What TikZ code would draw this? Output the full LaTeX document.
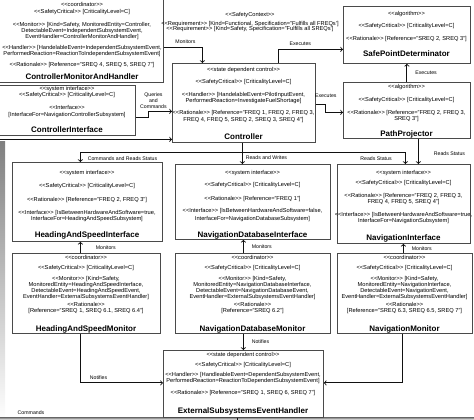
\documentclass[tikz,border=0pt]{standalone}
\usepackage{fontspec}
\setmainfont{Liberation Sans}
\usetikzlibrary{positioning,arrows,calc}

\definecolor{ink}  {HTML}{111111}
\definecolor{frame}{HTML}{4A4A4A}
\definecolor{shade}{HTML}{DCDCDC}

\newcommand{\stereo}[1]{<\kern0pt<#1>\kern0pt>}

\tikzset{
  >=to,
  % --- nodes
  comp/.style  = {draw=frame, line width=0.8pt, fill=white, anchor=north west, inner sep=0pt},
  body/.style  = {font=\fontsize{5.7}{6}\selectfont, align=center, inner sep=0pt, anchor=north},
  cname/.style = {font=\fontsize{8}{9}\selectfont\bfseries, inner sep=0pt, anchor=base},
  lbl/.style   = {font=\fontsize{5.2}{6}\selectfont, inner sep=1pt, align=center},
  % --- edges
  e/.style     = {->, line width=0.9pt, draw=ink},
}

\begin{document}
\begin{tikzpicture}[x=1pt,y=-1pt]
  \useasboundingbox (0,0) rectangle (474,420);
  \clip (0,0) rectangle (474,420);

  % page edge
  \fill[shade] (0,141) rectangle (5,420);
  \fill[shade] (0,417.5) rectangle (474,420);

  % boxes
  \node[comp, minimum width=165pt, minimum height=86pt] (cmh)  at (-2,-4) {};
  \node[comp, minimum width=136pt, minimum height=50pt] (ci)   at (-1,85) {};
  \node[comp, minimum width=143pt, minimum height=79pt] (ctrl) at (172,63) {};
  \node[comp, minimum width=127pt, minimum height=57pt] (spd)  at (343,6) {};
  \node[comp, minimum width=127pt, minimum height=56pt] (pp)   at (343,82) {};
  \node[comp, minimum width=150pt, minimum height=79pt] (hsi)  at (12,162) {};
  \node[comp, minimum width=155pt, minimum height=75pt] (ndi)  at (175,164) {};
  \node[comp, minimum width=133pt, minimum height=79pt] (ni)   at (337,164) {};
  \node[comp, minimum width=148pt, minimum height=80pt] (hsm)  at (12,253) {};
  \node[comp, minimum width=155pt, minimum height=80pt] (ndm)  at (175,253) {};
  \node[comp, minimum width=135pt, minimum height=80pt] (nm)   at (337,253) {};
  \node[comp, minimum width=160pt, minimum height=67pt] (eseh) at (163,350) {};

  % ControllerMonitorAndHandler
  \node[body] (cmh-txt) at (82,2) {\stereo{coordinator}\\[1pt]
    \stereo{SafetyCritical} [CriticalityLevel=C]\\[7pt]
    \stereo{Monitor} [Kind=Safety, MonitoredEntity=Controller,\\
    DetectableEvent=IndependentSubsystemEvent,\\
    EventHandler=ControllerMonitorAndHandler]\\[5pt]
    \stereo{Handler} [HandelableEvent=IndependentSubsystemEvent,\\
    PerformedReaction=ReactionToIndependentSubsystemEvent]\\[5pt]
    \stereo{Rationale} [Reference="SREQ 4, SREQ 5, SREQ 7"]};
  \node[cname] (cmh-name) at (82,79) {ControllerMonitorAndHandler};

  % SafetyContext
  \node[body] (safety) at (250,12) {\stereo{SafetyContext}\\[3pt]
    \stereo{Requirement} [Kind=Functional, Specification="Fulfills all FREQs']\\[-1pt]
    \stereo{Requirement} [Kind=Safety, Specification="Fulfills all SREQs']};

  % ControllerInterface
  \node[body] (ci-txt) at (67,86) {\stereo{system interface}\\
    \stereo{SafetyCritical} [CriticalityLevel=C]\\[7pt]
    \stereo{Interface}\\[1pt]
    {}[InterfaceFor=NavigationControllerSubsystem]};
  \node[cname] (ci-name) at (67,132) {ControllerInterface};

  % Controller
  \node[body] (ctrl-txt) at (243.5,67) {\stereo{state dependent control}\\[6pt]
    \stereo{SafetyCritical} [CriticalityLevel=C]\\[7pt]
    \stereo{Handler} [HandelableEvent=PilotInputEvent,\\
    PerformedReaction=InvestigateFuelShortage]\\[6pt]
    \stereo{Rationale} [Reference="FREQ 1, FREQ 2, FREQ 3,\\[1pt]
    FREQ 4, FREQ 5, SREQ 2, SREQ 3, SREQ 4"]};
  \node[cname] (ctrl-name) at (243.5,139) {Controller};

  % SafePointDeterminator
  \node[body] (spd-txt) at (406.5,11) {\stereo{algorithm}\\[6pt]
    \stereo{SafetyCritical} [CriticalityLevel=C]\\[7pt]
    \stereo{Rationale} [Reference="SREQ 2, SREQ 3"]};
  \node[cname] (spd-name) at (406.5,57) {SafePointDeterminator};

  % PathProjector
  \node[body] (pp-txt) at (406.5,84) {\stereo{algorithm}\\[7pt]
    \stereo{SafetyCritical} [CriticalityLevel=C]\\[7pt]
    \stereo{Rationale} [Reference="FREQ 2, FREQ 3,\\
    SREQ 3"]};
  \node[cname] (pp-name) at (406.5,136) {PathProjector};

  % HeadingAndSpeedInterface
  \node[body] (hsi-txt) at (87,170) {\stereo{system interface}\\[7pt]
    \stereo{SafetyCritical} [CriticalityLevel=C]\\[8pt]
    \stereo{Rationale} [Reference="FREQ 2, FREQ 3"]\\[7pt]
    \stereo{Interface} [IsBetweenHardwareAndSoftware=true,\\
    InterfaceFor=HeadingAndSpeedSubsystem]};
  \node[cname] (hsi-name) at (87,237) {HeadingAndSpeedInterface};

  % NavigationDatabaseInterface
  \node[body] (ndi-txt) at (252.5,170) {\stereo{system interface}\\[6pt]
    \stereo{SafetyCritical} [CriticalityLevel=C]\\[8pt]
    \stereo{Rationale} [Reference="FREQ 1"]\\[6.5pt]
    \stereo{Interface} [IsBetweenHardwareAndSoftware=false,\\[2pt]
    InterfaceFor=NavigationDatabaseSubsystem]};
  \node[cname] (ndi-name) at (252.5,237) {NavigationDatabaseInterface};

  % NavigationInterface
  \node[body] (ni-txt) at (403.5,170) {\stereo{system interface}\\[4pt]
    \stereo{SafetyCritical} [CriticalityLevel=C]\\[7.5pt]
    \stereo{Rationale} [Reference="FREQ 2, FREQ 3,\\
    FREQ 4, FREQ 5, SREQ 4"]\\[6.5pt]
    \stereo{Interface} [IsBetweenHardwareAndSoftware=true,\\
    InterfaceFor=NavigationSubsystem]};
  \node[cname] (ni-name) at (403.5,240) {NavigationInterface};

  % monitors
  \foreach \m/\cx/\ent/\ev/\refs/\name in {
    hsm/86/HeadingAndSpeedInterface/HeadingAndSpeedEvent/{SREQ 1, SREQ 6.1, SREQ 6.4}/HeadingAndSpeedMonitor,
    ndm/252.5/NavigationDatabaseInterface/NavigationDatabaseEvent/{SREQ 6.2}/NavigationDatabaseMonitor,
    nm/404.5/NavigationInterface/NavigationEvent/{SREQ 6.3, SREQ 6.5, SREQ 7}/NavigationMonitor}
  {
    \node[body] (\m-txt) at (\cx,255) {\stereo{coordinator}\\[4pt]
      \stereo{SafetyCritical} [CriticalityLevel=C]\\[5pt]
      \stereo{Monitor} [Kind=Safety,\\
      MonitoredEntity=\ent,\\
      DetectableEvent=\ev,\\
      EventHandler=ExternalSubsystemsEventHandler]\\[2pt]
      \stereo{Rationale}\\
      {}[Reference="\refs"]};
    \node[cname] (\m-name) at (\cx,331) {\name};
  }

  % ExternalSubsystemsEventHandler
  \node[body] (eseh-txt) at (243,352) {\stereo{state dependent control}\\[4pt]
    \stereo{SafetyCritical} [CriticalityLevel=C]\\[4pt]
    \stereo{Handler} [HandleableEvent=DependentSubsystemEvent,\\
    PerformedReaction=ReactionToDependentSubsystemEvent]\\[6pt]
    \stereo{Rationale} [Reference="SREQ 1, SREQ 6, SREQ 7"]};
  \node[cname] (eseh-name) at (243,413) {ExternalSubsystemsEventHandler};

  % connectors, top
  \draw[e] ([yshift=-8pt]cmh.east) -| ([xshift=-41.5pt]ctrl.north)
    node[lbl, pos=0.28, above=2pt] {Monitors};
  \draw[e] ([xshift=34.5pt]ctrl.north) |- ([yshift=-14.5pt]spd.west)
    node[lbl, pos=0.67, above=2pt] {Executes};
  \draw[e] ([yshift=-1.5pt]ctrl.east) -- ++(10,0) node[lbl, above=5pt] {Executes}
    |- ([yshift=-2pt]pp.west);
  \draw[e] (pp.north) -- (spd.south) node[lbl, midway, right=7pt] {Executes};
  \draw[e] ([yshift=-7pt]ci.east) -- ++(13,0) |- ([yshift=-8.5pt]ctrl.west)
    node[lbl, pos=0.6, above=1pt] {Queries\\and\\Commands};
  \coordinate (cmd-corner) at (-3,423);
  \draw[e] ([xshift=-6pt]eseh.south) |- (cmd-corner) |- ([yshift=-36.5pt]ctrl.west);
  \node[lbl] (cmd-lbl) at (31,413) {Commands};

  % connectors, middle
  \coordinate (split) at ([xshift=-1.5pt,yshift=-10pt]ctrl.south);
  \draw[e] ([xshift=-1.5pt]ctrl.south) -- ([xshift=-10.5pt]ndi.north)
    node[lbl, pos=0.72, right=2pt] {Reads and Writes};
  \draw[e] (split) -| ([xshift=-7pt]hsi.north)
    node[lbl, pos=0.37, below=2pt] {Commands and Reads Status};
  \draw[e] (split) -| ([xshift=1.5pt]ni.north)
    node[lbl, pos=0.41, below=2pt] {Reads Status};
  \draw[e] ([xshift=11.5pt]pp.south) -- ([xshift=14.5pt]ni.north)
    node[lbl, pos=0.6, right=14pt] {Reads Status};

  % connectors, monitors
  \draw[e] ([xshift=-6pt]hsm.north) -- ([xshift=-7pt]hsi.south)
    node[lbl, midway, right=14pt] {Monitors};
  \draw[e] ([xshift=-9.5pt]ndm.north) -- ([xshift=-9.5pt]ndi.south)
    node[lbl, midway, right=7pt] {Monitors};
  \draw[e] ([xshift=-1.5pt]nm.north) -- ([xshift=-0.5pt]ni.south)
    node[lbl, midway, right=7pt] {Monitors};

  % connectors, bottom
  \draw[e] ([xshift=-6pt]hsm.south) |- ([yshift=1pt]eseh.west)
    node[lbl, pos=0.61, above=2pt] {Notifies};
  \draw[e] ([xshift=-9.5pt]ndm.south) -- (eseh.north)
    node[lbl, midway, right=7pt] {Notifies};
  \draw[e] ([xshift=-2.5pt]nm.south) |- ([yshift=1pt]eseh.east);
\end{tikzpicture}
\end{document}
